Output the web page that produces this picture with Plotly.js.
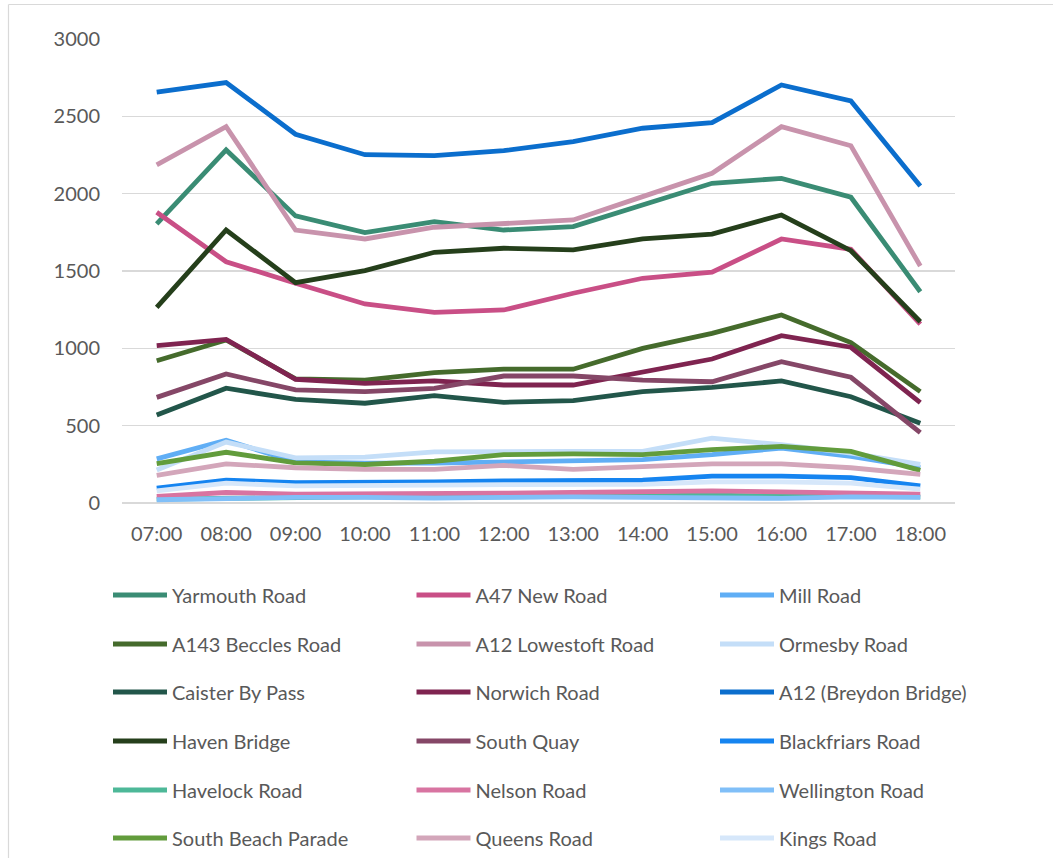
<!DOCTYPE html>
<html>
<head>
<meta charset="utf-8">
<script src="https://cdn.plot.ly/plotly-3.0.1.min.js"></script>
<style>html,body{margin:0;padding:0;background:#fff;}#chart{width:1053px;height:858px;}</style>
</head>
<body>
<div id="chart"></div>
<script>
const hours = ["07:00","08:00","09:00","10:00","11:00","12:00","13:00","14:00","15:00","16:00","17:00","18:00"];

const yarmouthRoad     = [1804, 2283, 1856, 1748, 1819, 1765, 1787, 1927, 2067, 2099, 1977, 1366];
const a47NewRoad       = [1880, 1560, 1421, 1287, 1233, 1248, 1356, 1453, 1492, 1707, 1640, 1157];
const millRoad         = [285, 406, 266, 258, 258, 268, 272, 281, 313, 355, 302, 228];
const a143BecclesRoad  = [920, 1054, 802, 795, 843, 866, 865, 1000, 1097, 1216, 1037, 720];
const a12LowestoftRoad = [2186, 2433, 1765, 1707, 1783, 1804, 1830, 1981, 2132, 2433, 2310, 1532];
const ormesbyRoad      = [213, 394, 292, 296, 330, 334, 334, 334, 419, 377, 323, 249];
const caisterByPass    = [569, 742, 670, 645, 694, 651, 662, 720, 748, 789, 687, 515];
const norwichRoad      = [1017, 1058, 800, 774, 789, 763, 763, 849, 931, 1082, 1007, 649];
const a12BreydonBridge = [2656, 2718, 2384, 2252, 2246, 2278, 2336, 2423, 2459, 2703, 2599, 2050];
const havenBridge      = [1265, 1765, 1425, 1502, 1621, 1647, 1636, 1707, 1739, 1862, 1631, 1172];
const southQuay        = [683, 834, 731, 720, 741, 821, 821, 795, 784, 914, 813, 455];
const blackfriarsRoad  = [96, 147, 132, 132, 136, 143, 147, 147, 174, 174, 164, 111];
const havelockRoad     = [25, 32, 38, 40, 36, 38, 42, 45, 50, 44, 42, 40];
const nelsonRoad       = [43, 68, 57, 57, 64, 64, 68, 72, 79, 72, 68, 57];
const wellingtonRoad   = [21, 30, 36, 36, 32, 36, 40, 36, 36, 30, 40, 36];
const southBeachParade = [255, 328, 260, 249, 270, 313, 317, 313, 345, 366, 334, 211];
const queensRoad       = [179, 253, 228, 217, 217, 243, 217, 234, 253, 253, 228, 185];
const kingsRoad        = [79, 128, 111, 111, 115, 119, 121, 121, 136, 136, 128, 89];

const seriesNames = ["Yarmouth Road","A47 New Road","Mill Road","A143 Beccles Road","A12 Lowestoft Road","Ormesby Road","Caister By Pass","Norwich Road","A12 (Breydon Bridge)","Haven Bridge","South Quay","Blackfriars Road","Havelock Road","Nelson Road","Wellington Road","South Beach Parade","Queens Road","Kings Road"];
const seriesValues = [yarmouthRoad,a47NewRoad,millRoad,a143BecclesRoad,a12LowestoftRoad,ormesbyRoad,caisterByPass,norwichRoad,a12BreydonBridge,havenBridge,southQuay,blackfriarsRoad,havelockRoad,nelsonRoad,wellingtonRoad,southBeachParade,queensRoad,kingsRoad];
const seriesColors = ["#3A8C74","#C94F86","#60AEF5","#456B2C","#C893AC","#C4DEF8","#22564A","#7F2450","#0B6ECD","#253F1B","#854767","#1584F0","#4DB898","#D874A1","#80BFF8","#629C3C","#D3A6BA","#D6E7FA"];

const FONT = "Lato, 'Open Sans', sans-serif";
const TXT = "#595959";

const traces = seriesNames.map((name, i) => {
  const row = Math.floor(i / 3);
  return {
    type: "scatter", mode: "lines", name: name,
    x: hours, y: seriesValues[i],
    line: {color: seriesColors[i], width: 4.8},
    legend: row === 0 ? "legend" : "legend" + (row + 1),
    hoverinfo: "name+y"
  };
});

const plotL = 122, plotR = 955, plotT = 39, plotB = 503;
const plotW = plotR - plotL, plotH = plotB - plotT;
const px = v => (v - plotL) / plotW;
const py = v => (plotB - v) / plotH;
const rowCenters = [595, 644, 692, 741, 790, 838];

const layout = {
  width: 1053, height: 858,
  paper_bgcolor: "#fff", plot_bgcolor: "#fff",
  margin: {l: plotL, r: 1053 - plotR, t: plotT, b: 858 - plotB, pad: 0, autoexpand: false},
  font: {family: FONT, color: TXT, size: 20},
  xaxis: {
    type: "category", range: [-0.5, hours.length - 0.5],
    showgrid: false, zeroline: false, automargin: false,
    showline: false, ticks: "", tickfont: {size: 20, color: TXT, family: FONT},
    ticklabelstandoff: 17, fixedrange: true
  },
  yaxis: {
    range: [0, 3000], tickvals: [0, 500, 1000, 1500, 2000, 2500, 3000], automargin: false,
    showgrid: true, gridcolor: "#D9D9D9", gridwidth: 1.2,
    zeroline: true, zerolinecolor: "#D9D9D9", zerolinewidth: 1.4,
    showline: false, ticks: "", tickfont: {size: 20, color: TXT, family: FONT},
    ticklabelstandoff: 21, fixedrange: true
  },
  shapes: [
    {type: "line", xref: "paper", yref: "paper", x0: px(8.5), x1: px(1053), y0: py(4.5), y1: py(4.5), line: {color: "#D9D9D9", width: 1.2}, layer: "below"},
    {type: "line", xref: "paper", yref: "paper", x0: px(8.5), x1: px(8.5), y0: py(4.5), y1: py(858), line: {color: "#D9D9D9", width: 1.2}, layer: "below"}
  ],
  showlegend: true
};

rowCenters.forEach((yc, r) => {
  const key = r === 0 ? "legend" : "legend" + (r + 1);
  layout[key] = {
    orientation: "h", x: px(108), xanchor: "left",
    y: py(yc), yanchor: "middle",
    entrywidth: 234.5, entrywidthmode: "pixels",
    font: {size: 20, color: TXT, family: FONT},
    bgcolor: "rgba(0,0,0,0)", borderwidth: 0,
    itemwidth: 54, tracegroupgap: 0, traceorder: "normal"
  };
});

Plotly.newPlot("chart", traces, layout, {displayModeBar: false, staticPlot: true});
</script>
</body>
</html>
